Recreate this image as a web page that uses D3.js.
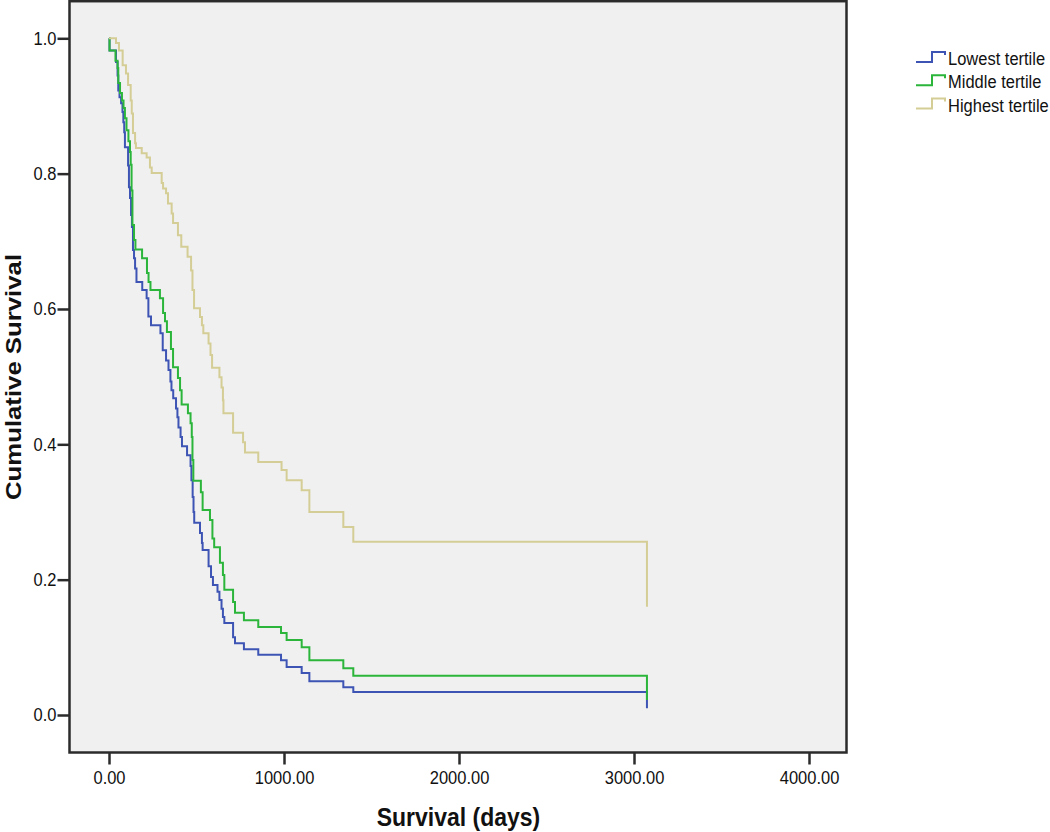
<!DOCTYPE html>
<html>
<head>
<meta charset="utf-8">
<script src="https://cdn.jsdelivr.net/npm/d3@7"></script>
<style>
  html, body { margin: 0; padding: 0; background: #fff; }
  svg { display: block; font-family: "Liberation Sans", Arial, sans-serif; }
</style>
</head>
<body>
<div id="chart"></div>
<script>
// Kaplan-Meier curves by tertile.
var seriesNames = ["Lowest tertile", "Middle tertile", "Highest tertile"];
var seriesColors = ["#3d54b4", "#2bb53b", "#d4cd95"];

var lowestTime = [0, 3, 40, 49, 53, 60, 69, 77, 82, 87, 91, 109, 114, 120, 126, 131, 137, 143, 149, 157,
  190, 215, 225, 240, 294, 307, 326, 340, 351, 357, 367, 383, 391, 397, 409, 417, 446, 466, 471, 478,
  483, 487, 520, 531, 535, 569, 583, 594, 620, 631, 643, 651, 659, 709, 720, 771, 853, 983, 1015, 1101,
  1145, 1339, 1396, 3074];
var lowestSurv = [1, .982, .965, .945, .923, .913, .904, .891, .876, .861, .839, .812, .780, .764, .739, .721, .687, .675, .660, .640,
  .628, .616, .589, .576, .564, .539, .524, .510, .493, .480, .468, .453, .440, .425, .411, .397, .384, .368, .347, .322,
  .300, .284, .269, .254, .244, .220, .204, .192, .182, .170, .157, .145, .136, .115, .106, .097, .089, .081, .071, .062,
  .050, .041, .034, .010];

var middleTime = [0, 3, 37, 49, 53, 63, 74, 83, 91, 100, 111, 120, 124, 129, 134, 143, 151, 189, 217, 226,
  237, 291, 309, 320, 331, 354, 366, 394, 406, 415, 451, 466, 473, 477, 482, 525, 535, 577, 591, 601,
  634, 651, 659, 709, 720, 771, 853, 983, 1015, 1101, 1145, 1339, 1396, 3074];
var middleSurv = [1, .982, .967, .956, .934, .919, .908, .897, .882, .864, .848, .832, .813, .775, .724, .702, .688, .675, .653, .640,
  .628, .616, .594, .582, .566, .541, .514, .498, .480, .459, .446, .431, .411, .377, .346, .329, .303, .288, .261, .248,
  .225, .207, .185, .167, .151, .140, .130, .121, .111, .100, .081, .069, .058, .022];

var highestTime = [0, 40, 57, 78, 97, 109, 124, 130, 137, 149, 154, 187, 215, 234, 244, 301, 309, 326, 337, 358,
  366, 394, 413, 449, 469, 477, 486, 520, 531, 539, 569, 580, 589, 631, 643, 651, 654, 709, 766, 777,
  853, 986, 1015, 1101, 1145, 1339, 1396, 3074];
var highestSurv = [1, .993, .982, .960, .948, .931, .908, .889, .860, .845, .838, .830, .824, .809, .801, .786, .778, .771, .756, .741,
  .727, .709, .692, .677, .657, .628, .601, .588, .576, .564, .549, .532, .513, .499, .484, .465, .446, .417, .403, .388,
  .374, .362, .347, .332, .300, .278, .256, .160];

var xTicks = [0, 1000, 2000, 3000, 4000];
var yTicks = [0, 0.2, 0.4, 0.6, 0.8, 1.0];

var W = 1050, H = 832;
var frame = { left: 69.5, top: 1.2, right: 846.5, bottom: 752.5 };
var stretch = 1.12; // source picture is slightly taller than wide

var x = d3.scaleLinear().domain([0, 4000]).range([109, 809]);
var y = d3.scaleLinear().domain([0, 1]).range([715, 38.3]);

var svg = d3.select("#chart").append("svg")
  .attr("width", W)
  .attr("height", H);

// Plot frame.
svg.append("rect")
  .attr("x", frame.left)
  .attr("y", frame.top)
  .attr("width", frame.right - frame.left)
  .attr("height", frame.bottom - frame.top)
  .attr("fill", "#f0f0f0")
  .attr("stroke", "#2b2b2b")
  .attr("stroke-width", 2.5);

// Y axis.
var gy = svg.append("g")
  .attr("transform", "translate(" + frame.left + ",0)")
  .call(d3.axisLeft(y).tickValues(yTicks).tickFormat(d3.format(".1f")).tickSize(12).tickPadding(1));
gy.select(".domain").remove();
gy.selectAll("line").attr("stroke", "#2b2b2b").attr("stroke-width", 2.5);
gy.selectAll("text")
  .attr("fill", "#111")
  .attr("font-size", "16.5px")
  .attr("font-family", "Liberation Sans, Arial, sans-serif")
  .attr("transform", "scale(1," + stretch + ")");

// X axis.
var gx = svg.append("g")
  .attr("transform", "translate(0," + frame.bottom + ")")
  .call(d3.axisBottom(x).tickValues(xTicks).tickFormat(d3.format(".2f")).tickSize(12));
gx.select(".domain").remove();
gx.selectAll("line").attr("stroke", "#2b2b2b").attr("stroke-width", 2.5);
gx.selectAll("text")
  .attr("fill", "#111")
  .attr("font-size", "16.5px")
  .attr("font-family", "Liberation Sans, Arial, sans-serif")
  .attr("y", 0)
  .attr("dy", "0.35em")
  .attr("transform", "translate(0,25.5) scale(1," + stretch + ")");

// Axis titles.
svg.append("text")
  .attr("transform", "translate(458.5,826) scale(1," + stretch + ")")
  .attr("text-anchor", "middle")
  .attr("font-weight", "bold")
  .attr("font-size", "23px")
  .attr("fill", "#111")
  .text("Survival (days)");

svg.append("text")
  .attr("transform", "translate(21,377) rotate(-90) scale(" + stretch + ",1)")
  .attr("text-anchor", "middle")
  .attr("font-weight", "bold")
  .attr("font-size", "23px")
  .attr("fill", "#111")
  .text("Cumulative Survival");

// Step curves.
var series = [
  { time: lowestTime, surv: lowestSurv },
  { time: middleTime, surv: middleSurv },
  { time: highestTime, surv: highestSurv }
];

var line = d3.line()
  .x(function (d) { return x(d[0]); })
  .y(function (d) { return y(d[1]); })
  .curve(d3.curveStepAfter);

series.forEach(function (s, i) {
  var pts = s.time.map(function (t, j) { return [t, s.surv[j]]; });
  svg.append("path")
    .datum(pts)
    .attr("fill", "none")
    .attr("stroke", seriesColors[i])
    .attr("stroke-width", 2)
    .attr("d", line);
});

// Legend.
var legend = svg.append("g").attr("transform", "translate(916,0)");
seriesNames.forEach(function (name, i) {
  var base = 65 + i * 23.3;
  legend.append("path")
    .attr("d", "M0," + (base - 3) + " H16 V" + (base - 13) + " H29 V" + (base - 10))
    .attr("fill", "none")
    .attr("stroke", seriesColors[i])
    .attr("stroke-width", 2);
  legend.append("text")
    .attr("transform", "translate(32," + base + ") scale(1," + stretch + ")")
    .attr("font-size", "16.5px")
    .attr("fill", "#111")
    .text(name);
});
</script>
</body>
</html>
